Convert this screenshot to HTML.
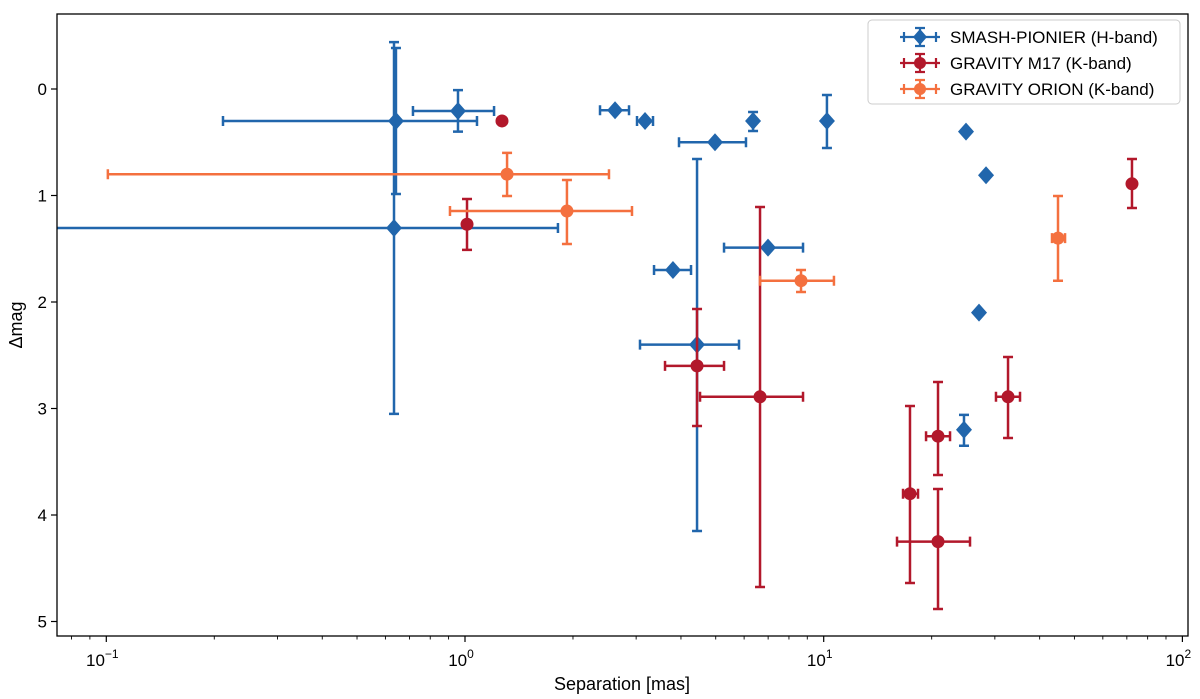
<!DOCTYPE html>
<html><head><meta charset="utf-8">
<style>
html,body{margin:0;padding:0;background:#fff;}
svg{display:block;font-family:"Liberation Sans","DejaVu Sans",sans-serif;}
</style></head>
<body>
<svg id="chart" width="1200" height="699" viewBox="0 0 1200 699">
<defs><clipPath id="plotclip"><rect x="57" y="14" width="1131" height="622"/></clipPath></defs>
<rect x="0" y="0" width="1200" height="699" fill="#fff"/>
<g id="marks" clip-path="url(#plotclip)"></g>
<g id="axes"></g>
<rect x="57" y="14" width="1131" height="622" fill="none" stroke="#000" stroke-width="1.3"/>
<text x="622" y="690" text-anchor="middle" font-size="18">Separation [mas]</text>
<text x="22" y="325" text-anchor="middle" font-size="18" transform="rotate(-90 22 325)">Δmag</text>
<g id="legend"></g>
</svg>
<script>
// Series: SMASH-PIONIER (H-band)
const blueSep = [0.642,0.634,0.956,2.62,3.176,4.977,6.354,10.21,24.93,28.35,27.10,3.80,6.994,4.435,24.61];
const blueMag = [0.30,1.305,0.207,0.20,0.30,0.50,0.30,0.30,0.40,0.81,2.10,1.70,1.49,2.40,3.20];
const blueSepLo = [0.2115,0.05,0.716,2.379,3.017,3.95,null,null,null,null,null,3.365,5.274,3.075,null];
const blueSepHi = [1.080,1.816,1.205,2.866,3.343,6.072,null,null,null,null,null,4.267,8.757,5.806,null];
const blueMagLo = [-0.385,-0.44,0.01,null,null,null,0.216,0.056,null,null,null,null,null,0.657,3.06];
const blueMagHi = [0.986,3.05,0.40,null,null,null,0.394,0.554,null,null,null,null,null,4.15,3.35];
// Series: GRAVITY M17 (K-band)
const redSep = [1.268,1.013,4.435,6.645,17.40,20.83,20.83,32.65,72.35];
const redMag = [0.30,1.27,2.60,2.89,3.80,3.26,4.25,2.89,0.89];
const redSepLo = [null,null,3.611,4.521,16.64,19.29,16.01,30.22,null];
const redSepHi = [null,null,5.274,8.757,18.32,22.50,25.58,35.26,null];
const redMagLo = [null,1.033,2.066,1.108,2.977,2.751,3.756,2.516,0.657];
const redMagHi = [null,1.51,3.164,4.676,4.638,3.624,4.883,3.277,1.117];
// Series: GRAVITY ORION (K-band)
const orSep = [1.31,1.924,8.645,45.0];
const orMag = [0.80,1.146,1.80,1.40];
const orSepLo = [0.101,0.908,6.645,43.3];
const orSepHi = [2.52,2.921,10.68,47.08];
const orMagLo = [0.60,0.854,1.70,1.005];
const orMagHi = [1.005,1.455,1.906,1.80];
// Axis ticks
const yTicks = [0,1,2,3,4,5];
const xTickExps = [-1,0,1,2];

const NS='http://www.w3.org/2000/svg';
const X0=465, PXD=358.7, Y0=89, PXU=106.5;
function xs(v){return X0+Math.log10(v)*PXD;}
function ys(v){return Y0+v*PXU;}
function mk(tag,attrs,parent){const e=document.createElementNS(NS,tag);for(const k in attrs)e.setAttribute(k,attrs[k]);parent.appendChild(e);return e;}

const axes=document.getElementById('axes');
yTicks.forEach(t=>{
  const y=ys(t);
  const l=mk('line',{x1:51,x2:57,y1:y,y2:y,stroke:'#000','stroke-width':1.2},axes);
  
  
  const tx=mk('text',{x:47,y:y+6,'text-anchor':'end','font-size':17},axes);
  tx.textContent=String(t);
  
  
});
xTickExps.forEach(e=>{
  const x=xs(Math.pow(10,e));
  const l=mk('line',{x1:x,x2:x,y1:636,y2:642,stroke:'#000','stroke-width':1.2},axes);
  
  
  const tx=mk('text',{x:x-4,y:666,'text-anchor':'middle','font-size':17},axes);
  
  
  tx.textContent='10';
  const sup=mk('tspan',{dy:-8,'font-size':12},tx);
  sup.textContent=String(e).replace('-','−');
});
for(let e=-2;e<=2;e++){for(let m=2;m<=9;m++){
  const x=xs(m*Math.pow(10,e));
  if(x<57||x>1188)continue;
  const l=mk('line',{x1:x,x2:x,y1:636,y2:639.5,stroke:'#000','stroke-width':0.9},axes);
  
  
}}

const marks=document.getElementById('marks');
function drawSeries(name,color,shape,sep,mag,sLo,sHi,mLo,mHi){
  const g=mk('g',{},marks);
  
  
  sep.forEach((s,i)=>{
    const x=xs(s), y=ys(mag[i]);
    const sw=2.5, cap=5;
    if(sLo[i]!==null){
      const a=xs(sLo[i]), b=xs(sHi[i]);
      const eb=mk('path',{d:`M${a},${y}H${b}M${a},${y-cap}V${y+cap}M${b},${y-cap}V${y+cap}`,stroke:color,'stroke-width':sw,fill:'none'},g);
      
      
    }
    if(mLo[i]!==null){
      const a=ys(mLo[i]), b=ys(mHi[i]);
      const eb=mk('path',{d:`M${x},${a}V${b}M${x-cap},${a}H${x+cap}M${x-cap},${b}H${x+cap}`,stroke:color,'stroke-width':sw,fill:'none'},g);
      
      
    }
    let m;
    if(shape==='diamond'){
      m=mk('path',{d:`M${x},${y-9}L${x+8},${y}L${x},${y+9}L${x-8},${y}Z`,fill:color},g);
    } else {
      m=mk('circle',{cx:x,cy:y,r:6.5,fill:color},g);
    }
    
    
  });
}
const BLUE='#2166ac', RED='#b2182b', ORANGE='#f4703f';
drawSeries('smash-pionier',BLUE,'diamond',blueSep,blueMag,blueSepLo,blueSepHi,blueMagLo,blueMagHi);
drawSeries('gravity-m17',RED,'circle',redSep,redMag,redSepLo,redSepHi,redMagLo,redMagHi);
drawSeries('gravity-orion',ORANGE,'circle',orSep,orMag,orSepLo,orSepHi,orMagLo,orMagHi);

// legend
const lg=document.getElementById('legend');
const box=mk('rect',{x:868,y:20,width:312,height:84,rx:4,fill:'#fff','fill-opacity':0.85,stroke:'#ccc','stroke-width':1},lg);


const legLabels=['SMASH-PIONIER (H-band)','GRAVITY M17 (K-band)','GRAVITY ORION (K-band)'];
const legColors=[BLUE,RED,ORANGE];
legLabels.forEach((t,i)=>{
  const y=37+i*26, c=legColors[i];
  const g=mk('g',{},lg);
  
  
  mk('path',{d:`M900,${y}H940M904,${y-5}V${y+5}M936,${y-5}V${y+5}M920,${y-9}V${y+9}M915,${y-9}H925M915,${y+9}H925`,stroke:c,'stroke-width':2.2,fill:'none'},g);
  if(i===0) mk('path',{d:`M920,${y-8}L927,${y}L920,${y+8}L913,${y}Z`,fill:c},g);
  else mk('circle',{cx:920,cy:y,r:6,fill:c},g);
  const tx=mk('text',{x:950,y:y+6,'font-size':17},g);
  tx.textContent=t;
});
</script>
</body></html>
